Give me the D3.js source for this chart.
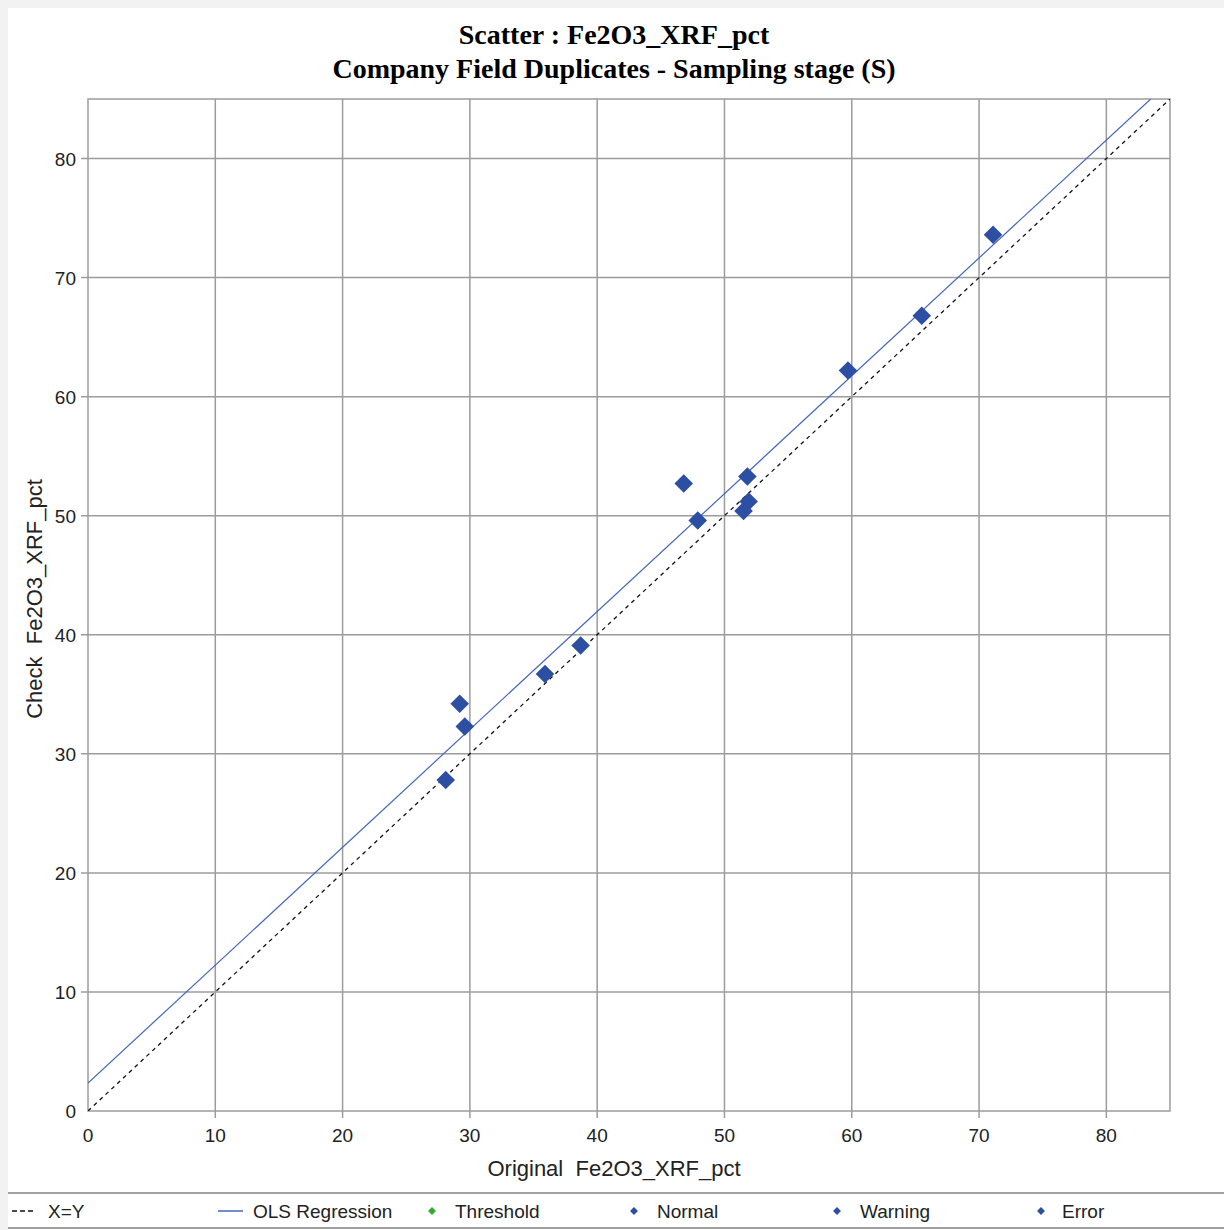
<!DOCTYPE html>
<html>
<head>
<meta charset="utf-8">
<script src="https://cdn.jsdelivr.net/npm/d3@7"></script>
<style>
  html, body { margin: 0; padding: 0; background: #f2f2f2; }
  svg { display: block; }
  text { font-family: "Liberation Sans", Arial, sans-serif; white-space: pre; }
</style>
</head>
<body>
<div id="chart"></div>
<script>
// data
const original = [71.1, 65.5, 59.7, 46.8, 51.8, 47.9, 51.9, 51.5, 38.7, 35.9, 29.2, 29.6, 28.1];
const check    = [73.6, 66.8, 62.2, 52.7, 53.3, 49.6, 51.2, 50.4, 39.1, 36.7, 34.2, 32.3, 27.8];
const xTicks = [0, 10, 20, 30, 40, 50, 60, 70, 80];
const yTicks = [0, 10, 20, 30, 40, 50, 60, 70, 80];
const olsIntercept = 2.35;
const olsSlope = 0.99;
const legendItems = ["X=Y", "OLS Regression", "Threshold", "Normal", "Warning", "Error"];

const W = 1224, H = 1230;
const margin = { top: 99, right: 54, bottom: 119, left: 88 };
const width = W - margin.left - margin.right,
      height = H - margin.top - margin.bottom;

const svg = d3.select("#chart").append("svg")
  .attr("width", W).attr("height", H);

// white panel
svg.append("rect")
  .attr("x", 8).attr("y", 8).attr("width", W - 8).attr("height", H - 8)
  .attr("fill", "#fff");

// titles
svg.append("text")
  .attr("x", 614).attr("y", 44)
  .attr("text-anchor", "middle")
  .style("font-family", "'Liberation Serif', 'Times New Roman', serif")
  .style("font-weight", "bold").style("font-size", "28px")
  .text("Scatter : Fe2O3_XRF_pct");
svg.append("text")
  .attr("x", 614).attr("y", 78)
  .attr("text-anchor", "middle")
  .style("font-family", "'Liberation Serif', 'Times New Roman', serif")
  .style("font-weight", "bold").style("font-size", "28px")
  .text("Company Field Duplicates - Sampling stage (S)");

const g = svg.append("g")
  .attr("transform", `translate(${margin.left},${margin.top})`);

const x = d3.scaleLinear().domain([0, 85]).range([0, width]);
const y = d3.scaleLinear().domain([0, 85]).range([height, 0]);

const gridColor = "#9c9c9c";

// grid
g.selectAll(".vgrid").data(xTicks.slice(1)).join("line")
  .attr("x1", d => x(d)).attr("x2", d => x(d))
  .attr("y1", 0).attr("y2", height + 7)
  .attr("stroke", gridColor).attr("stroke-width", 1.5);
g.selectAll(".hgrid").data(yTicks.slice(1)).join("line")
  .attr("x1", -7).attr("x2", width)
  .attr("y1", d => y(d)).attr("y2", d => y(d))
  .attr("stroke", gridColor).attr("stroke-width", 1.5);

// frame
g.append("rect")
  .attr("width", width).attr("height", height)
  .attr("fill", "none").attr("stroke", gridColor).attr("stroke-width", 1.5);

// tick labels
g.selectAll(".xlab").data(xTicks).join("text")
  .attr("x", d => x(d)).attr("y", height + 31)
  .attr("text-anchor", "middle")
  .style("font-size", "19px").attr("fill", "#222")
  .text(d => d);
g.selectAll(".ylab").data(yTicks).join("text")
  .attr("x", -12).attr("y", d => y(d) + 7)
  .attr("text-anchor", "end")
  .style("font-size", "19px").attr("fill", "#222")
  .text(d => d);

// axis titles
svg.append("text")
  .attr("x", 614).attr("y", 1176)
  .attr("text-anchor", "middle")
  .style("font-size", "22px").attr("fill", "#222")
  .text("Original  Fe2O3_XRF_pct");
svg.append("text")
  .attr("transform", "translate(42,599) rotate(-90)")
  .attr("text-anchor", "middle")
  .style("font-size", "22px").attr("fill", "#222")
  .text("Check  Fe2O3_XRF_pct");

// clip
svg.append("clipPath").attr("id", "plotclip")
  .append("rect").attr("width", width).attr("height", height);
const plot = g.append("g").attr("clip-path", "url(#plotclip)");

// X=Y line
plot.append("line")
  .attr("x1", x(0)).attr("y1", y(0)).attr("x2", x(85)).attr("y2", y(85))
  .attr("stroke", "#111").attr("stroke-width", 1.3)
  .attr("stroke-dasharray", "4,4");

// OLS line
const xEnd = (85 - olsIntercept) / olsSlope;
plot.append("line")
  .attr("x1", x(0)).attr("y1", y(olsIntercept))
  .attr("x2", x(xEnd)).attr("y2", y(olsIntercept + olsSlope * xEnd))
  .attr("stroke", "#4466bb").attr("stroke-width", 1.2);

// points
const pts = original.map((d, i) => ({ x: d, y: check[i] }));
const diamond = d3.symbol().type(d3.symbolDiamond2).size(220);
g.selectAll(".pt").data(pts).join("path")
  .attr("transform", d => `translate(${x(d.x)},${y(d.y)})`)
  .attr("d", diamond)
  .attr("fill", "#2d4fa3");

// legend
svg.append("line").attr("x1", 8).attr("x2", W).attr("y1", 1193).attr("y2", 1193)
  .attr("stroke", "#a0a0a0").attr("stroke-width", 2);
svg.append("line").attr("x1", 8).attr("x2", W).attr("y1", 1228).attr("y2", 1228)
  .attr("stroke", "#a0a0a0").attr("stroke-width", 2);

const ly = 1211;
const legendX = [12, 218, 426, 628, 831, 1035];
const legendTextX = [48, 253, 455, 657, 860, 1062];
const legendColors = ["#111", "#4466bb", "#33aa33", "#2d4fa3", "#2d4fa3", "#2d4fa3"];
const lg = svg.append("g");
legendItems.forEach((name, i) => {
  if (i === 0) {
    lg.append("line").attr("x1", legendX[i]).attr("x2", legendX[i] + 24)
      .attr("y1", ly).attr("y2", ly)
      .attr("stroke", legendColors[i]).attr("stroke-width", 1.5)
      .attr("stroke-dasharray", "5,3");
  } else if (i === 1) {
    lg.append("line").attr("x1", legendX[i]).attr("x2", legendX[i] + 25)
      .attr("y1", ly).attr("y2", ly)
      .attr("stroke", legendColors[i]).attr("stroke-width", 1.5);
  } else {
    lg.append("path")
      .attr("transform", `translate(${legendX[i] + 6},${ly})`)
      .attr("d", d3.symbol().type(d3.symbolDiamond2).size(40))
      .attr("fill", legendColors[i]);
  }
  lg.append("text")
    .attr("x", legendTextX[i]).attr("y", ly + 7)
    .style("font-size", "19px").attr("fill", "#222")
    .text(name);
});
</script>
</body>
</html>
